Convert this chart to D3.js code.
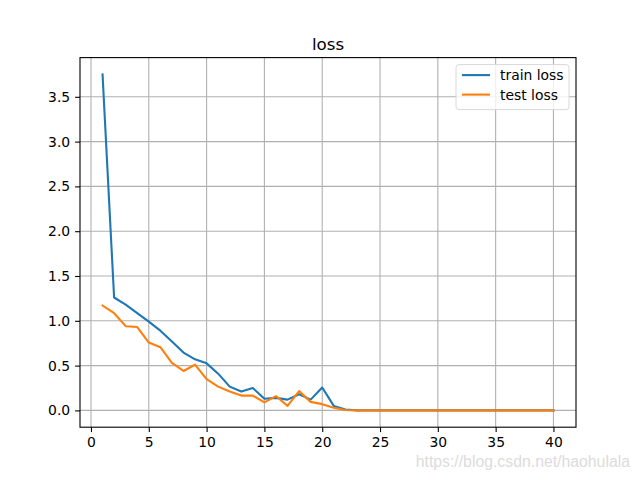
<!DOCTYPE html>
<meta charset="utf-8">
<script src="https://cdn.jsdelivr.net/npm/d3@7"></script>
<style>
body { margin: 0; background: #fff; }
text { font-family: "DejaVu Sans", sans-serif; fill: #000; }
.grid line { stroke: #b0b0b0; stroke-width: 1.1px; }
path.line { fill: none; stroke-width: 2.1px; stroke-linejoin: round; stroke-linecap: square; }
</style>
<body>
<script>

// epochs 1..40
var epochs = d3.range(1, 41);

var trainLoss = [3.75, 1.26, 1.18, 1.085, 0.99, 0.89, 0.77, 0.645, 0.57, 0.525,
                 0.41, 0.265, 0.21, 0.25, 0.13, 0.14, 0.12, 0.18, 0.12, 0.255,
                 0.05, 0.01, 0.0, 0.0, 0.0, 0.0, 0.0, 0.0, 0.0, 0.0,
                 0.0, 0.0, 0.0, 0.0, 0.0, 0.0, 0.0, 0.0, 0.0, 0.0];

var testLoss = [1.17, 1.085, 0.94, 0.93, 0.757, 0.705, 0.53, 0.44, 0.51, 0.35,
                0.265, 0.21, 0.165, 0.165, 0.09, 0.16, 0.05, 0.215, 0.095, 0.07,
                0.03, 0.005, 0.0, 0.0, 0.0, 0.0, 0.0, 0.0, 0.0, 0.0,
                0.0, 0.0, 0.0, 0.0, 0.0, 0.0, 0.0, 0.0, 0.0, 0.0];

var xTicks = [0, 5, 10, 15, 20, 25, 30, 35, 40];
var yTicks = [0.0, 0.5, 1.0, 1.5, 2.0, 2.5, 3.0, 3.5];

var seriesNames = ["train loss", "test loss"];
var seriesColors = ["#1f77b4", "#ff7f0e"];

var width = 640, height = 480;
var margin = {left: 80, right: 64, top: 57.6, bottom: 52.8};
var iw = width - margin.left - margin.right,
    ih = height - margin.top - margin.bottom;

var svg = d3.select("body").append("svg")
    .attr("width", width)
    .attr("height", height);

var g = svg.append("g")
    .attr("transform", "translate(" + margin.left + "," + margin.top + ")");

// matplotlib-style 5% margins
var xmin = 1, xmax = 40, xpad = (xmax - xmin) * 0.05;
var ymax = d3.max(trainLoss.concat(testLoss)), ymin = 0, ypad = (ymax - ymin) * 0.05;

var x = d3.scaleLinear().domain([xmin - xpad, xmax + xpad]).range([0, iw]);
var y = d3.scaleLinear().domain([ymin - ypad, ymax + ypad]).range([ih, 0]);

// grid
var grid = g.append("g").attr("class", "grid");
grid.selectAll("line.vx").data(xTicks).enter().append("line")
    .attr("x1", function(d) { return x(d); })
    .attr("x2", function(d) { return x(d); })
    .attr("y1", 0).attr("y2", ih);
grid.selectAll("line.hy").data(yTicks).enter().append("line")
    .attr("x1", 0).attr("x2", iw)
    .attr("y1", function(d) { return y(d); })
    .attr("y2", function(d) { return y(d); });

// lines
var line = d3.line()
    .x(function(d, i) { return x(epochs[i]); })
    .y(function(d) { return y(d); });

[trainLoss, testLoss].forEach(function(s, i) {
  g.append("path")
      .datum(s)
      .attr("class", "line")
      .attr("stroke", seriesColors[i])
      .attr("d", line);
});

// axes
var xAxis = g.append("g")
    .attr("transform", "translate(0," + ih + ")")
    .call(d3.axisBottom(x).tickValues(xTicks).tickSize(4.9).tickPadding(4.9).tickFormat(d3.format("d")));
var yAxis = g.append("g")
    .call(d3.axisLeft(y).tickValues(yTicks).tickSize(4.9).tickPadding(4.9).tickFormat(d3.format(".1f")));

[xAxis, yAxis].forEach(function(a) {
  a.select(".domain").remove();
  a.selectAll("line").attr("stroke", "#000").attr("stroke-width", 1.1);
  a.selectAll("text").style("font-family", "DejaVu Sans").style("font-size", "13.9px").attr("fill", "#000");
});

// frame
g.append("rect")
    .attr("width", iw).attr("height", ih)
    .attr("fill", "none").attr("stroke", "#000").attr("stroke-width", 1.1);

// title
svg.append("text")
    .attr("x", margin.left + iw / 2)
    .attr("y", margin.top - 8)
    .attr("text-anchor", "middle")
    .style("font-size", "16.7px")
    .text("loss");

// legend
var lg = g.append("g").attr("transform", "translate(" + (iw - 120) + ",7)");
lg.append("rect")
    .attr("width", 113).attr("height", 45)
    .attr("rx", 3)
    .attr("fill", "#fff").attr("fill-opacity", 0.8)
    .attr("stroke", "#d8d8d8").attr("stroke-width", 1);
seriesNames.forEach(function(n, i) {
  var yy = 10.5 + i * 19.5;
  lg.append("line")
      .attr("x1", 6).attr("x2", 34)
      .attr("y1", yy).attr("y2", yy)
      .attr("stroke", seriesColors[i]).attr("stroke-width", 2.1);
  lg.append("text")
      .attr("x", 44).attr("y", yy + 5)
      .style("font-size", "13.9px")
      .text(n);
});

// watermark
svg.append("text")
    .attr("x", 630).attr("y", 467)
    .attr("text-anchor", "end")
    .style("font-family", "Liberation Sans, Arial, sans-serif")
    .style("font-size", "15.8px")
    .style("fill", "#dcdcdc")
    .text("https://blog.csdn.net/haohulala");

</script>
</body>
